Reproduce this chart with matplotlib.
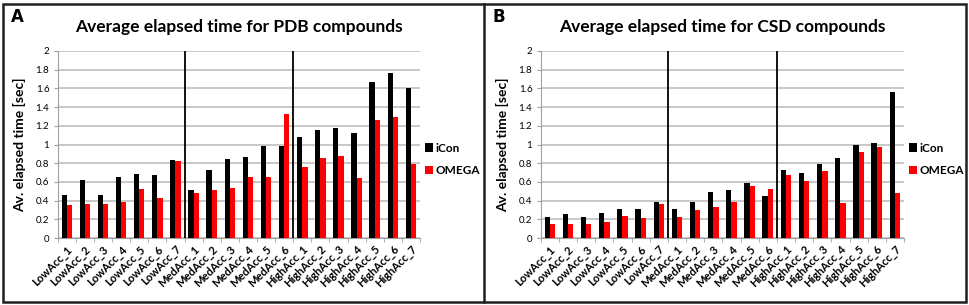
import matplotlib
matplotlib.use("Agg")
import matplotlib.pyplot as plt
from matplotlib.patches import Rectangle
from matplotlib.lines import Line2D
import numpy as np

plt.rcParams['font.family'] = ['Lato', 'DejaVu Sans']

# data
categories = ['LowAcc_1', 'LowAcc_2', 'LowAcc_3', 'LowAcc_4', 'LowAcc_5', 'LowAcc_6', 'LowAcc_7',
              'MedAcc_1', 'MedAcc_2', 'MedAcc_3', 'MedAcc_4', 'MedAcc_5', 'MedAcc_6',
              'HighAcc_1', 'HighAcc_2', 'HighAcc_3', 'HighAcc_4', 'HighAcc_5', 'HighAcc_6', 'HighAcc_7']

pdb_icon = [0.46, 0.62, 0.46, 0.65, 0.68, 0.67, 0.83,
            0.51, 0.73, 0.85, 0.87, 0.98, 0.98,
            1.08, 1.15, 1.18, 1.12, 1.67, 1.77, 1.60]
pdb_omega = [0.35, 0.36, 0.36, 0.38, 0.52, 0.43, 0.82,
             0.48, 0.51, 0.54, 0.65, 0.65, 1.33,
             0.76, 0.86, 0.88, 0.64, 1.26, 1.29, 0.79]

csd_icon = [0.22, 0.26, 0.22, 0.27, 0.31, 0.31, 0.39,
            0.31, 0.39, 0.49, 0.51, 0.59, 0.45,
            0.73, 0.70, 0.79, 0.86, 0.99, 1.02, 1.56]
csd_omega = [0.15, 0.15, 0.15, 0.17, 0.23, 0.21, 0.36,
             0.22, 0.30, 0.33, 0.39, 0.56, 0.52,
             0.67, 0.61, 0.72, 0.37, 0.92, 0.97, 0.48]

group_breaks = [6.5, 12.5]
yticks = [0, 0.2, 0.4, 0.6, 0.8, 1, 1.2, 1.4, 1.6, 1.8, 2]

W, H = 969, 305


def panel(rect, icon, omega, title, letter, letter_x):
    """ Draw one bar panel """
    ax = fig.add_axes(rect)
    x = np.arange(len(categories))
    w = 0.29
    ax.bar(x - w / 2, icon, w, color='black', label='iCon', zorder=3)
    ax.bar(x + w / 2, omega, w, color='#ff0000', label='OMEGA', zorder=3)

    for b in group_breaks:
        ax.axvline(b, color='black', lw=1.3, zorder=4)

    ax.set_xlim(-0.5, len(categories) - 0.5)
    ax.set_ylim(0, 2)
    ax.set_yticks(yticks)
    ax.set_yticklabels(['{:g}'.format(t) for t in yticks], fontsize=7)
    ax.yaxis.grid(True, color='#bfbfbf', lw=1.2, zorder=0)
    ax.set_axisbelow(True)

    # category boundary ticks
    ax.set_xticks(np.arange(len(categories) + 1) - 0.5, minor=True)
    ax.set_xticks(x)
    ax.set_xticklabels(categories, rotation=45, ha='right', rotation_mode='anchor',
                       fontsize=8, fontweight='bold')
    ax.tick_params(axis='x', which='major', length=0, pad=4)
    ax.tick_params(axis='x', which='minor', length=3, color='#a0a0a0')
    ax.tick_params(axis='y', length=3, color='#a0a0a0', pad=3)

    for s in ['top', 'right']:
        ax.spines[s].set_visible(False)
    for s in ['left', 'bottom']:
        ax.spines[s].set_color('#a0a0a0')

    ax.set_ylabel('Av. elapsed time [sec]', fontsize=10, fontweight='bold', labelpad=7)
    ax.set_title(title, fontsize=12.5, fontweight='bold', pad=14)

    ax.legend(loc='center left', bbox_to_anchor=(1.015, 0.42), frameon=False,
              borderaxespad=0, borderpad=0, handlelength=0.6,
              handleheight=0.7, handletextpad=0.25, labelspacing=1.0,
              prop={'size': 8.5, 'weight': 'bold'})

    fig.text(letter_x / W, 1 - 17 / H, letter, fontsize=12, fontweight='bold',
             ha='left', va='center', family='DejaVu Sans')
    return ax


fig = plt.figure(figsize=(W / 100, H / 100), dpi=100)

panel([57.7 / W, (H - 238) / H, (420 - 57.7) / W, 187 / H],
      pdb_icon, pdb_omega, 'Average elapsed time for PDB compounds', 'A', 11)
panel([540.7 / W, (H - 238) / H, (904 - 540.7) / W, 187 / H],
      csd_icon, csd_omega, 'Average elapsed time for CSD compounds', 'B', 492)

# panel frames
fig.patches.append(Rectangle((3 / W, 3 / H), 963 / W, 298 / H, transform=fig.transFigure,
                             fill=False, ec='#202020', lw=1.8))
fig.lines.append(Line2D([484 / W, 484 / W], [3 / H, 301 / H], transform=fig.transFigure,
                        color='#202020', lw=1.8))

fig.savefig('out.png', dpi=100)
